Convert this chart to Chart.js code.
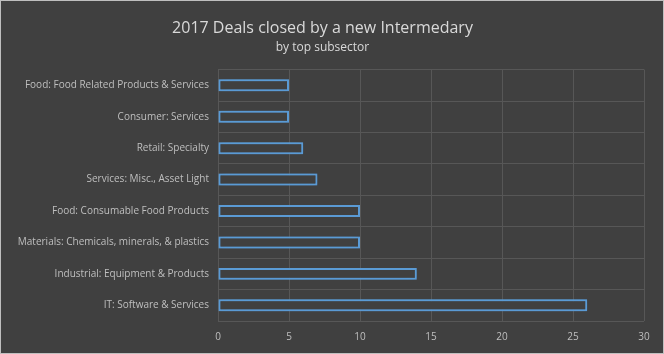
<!DOCTYPE html>
<html>
<head>
<meta charset="utf-8">
<script src="https://cdn.jsdelivr.net/npm/chart.js@4.4.0/dist/chart.umd.min.js"></script>
<style>
  html, body { margin: 0; padding: 0; background: #404040; }
  #wrap { position: relative; width: 662px; height: 352px; border: 1px solid #bfbfbf; }
</style>
</head>
<body>
<div id="wrap"><canvas id="dealsChart"></canvas></div>
<script>
// ===== 2017 deals by subsector =====

const subsectors = [
  'Food: Food Related Products & Services',
  'Consumer: Services',
  'Retail: Specialty',
  'Services: Misc., Asset Light',
  'Food: Consumable Food Products',
  'Materials: Chemicals, minerals, & plastics',
  'Industrial: Equipment & Products',
  'IT: Software & Services',
];
const dealCounts = [5, 5, 6, 7, 10, 10, 14, 26];
const xTicks = [0, 5, 10, 15, 20, 25, 30];

const FONT = 'Open Sans';
const LABEL_COLOR = '#bfbfbf';
const GRID_COLOR = '#575757';

// soft blue glow round the bars
const glowPlugin = {
  id: 'glow',
  beforeDatasetsDraw(chart) {
    const ctx = chart.ctx;
    ctx.save();
    ctx.shadowColor = 'rgba(91,155,213,0.9)';
    ctx.shadowBlur = 8;
  },
  afterDatasetsDraw(chart) {
    chart.ctx.restore();
  },
};

new Chart(document.getElementById('dealsChart'), {
  type: 'bar',
  data: {
    labels: subsectors,
    datasets: [{
      data: dealCounts,
      backgroundColor: '#404040',
      borderColor: '#5b9bd5',
      borderWidth: 2,
      borderSkipped: false,
      barPercentage: 0.38,
      categoryPercentage: 1,
    }],
  },
  plugins: [glowPlugin],
  options: {
    indexAxis: 'y',
    responsive: true,
    maintainAspectRatio: false,
    animation: false,
    layout: { padding: { left: 0, right: 19, top: 14, bottom: 0 } },
    plugins: {
      legend: { display: false },
      tooltip: { enabled: false },
      title: {
        display: true,
        text: '2017 Deals closed by a new Intermedary',
        color: '#d9d9d9',
        font: { family: FONT, size: 16, weight: 'normal' },
        padding: { top: 4, bottom: 0 },
      },
      subtitle: {
        display: true,
        text: 'by top subsector',
        color: '#d9d9d9',
        font: { family: FONT, size: 12, weight: 'normal' },
        padding: { top: 2, bottom: 15 },
      },
    },
    scales: {
      x: {
        min: 0,
        max: 30,
        afterBuildTicks: axis => { axis.ticks = xTicks.map(v => ({ value: v })); },
        ticks: { color: LABEL_COLOR, font: { family: FONT, size: 10 }, padding: 10 },
        grid: { color: GRID_COLOR, drawTicks: false },
        border: { display: false },
      },
      y: {
        afterFit: axis => { axis.width = 217; },
        ticks: { color: LABEL_COLOR, font: { family: FONT, size: 10 }, padding: 9 },
        grid: { color: GRID_COLOR, drawTicks: false, offset: true },
        border: { display: false },
      },
    },
  },
});
</script>
</body>
</html>
